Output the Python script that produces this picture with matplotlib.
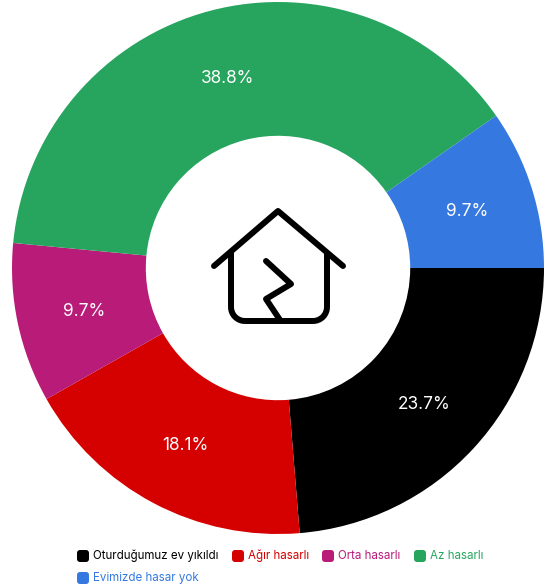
import matplotlib
matplotlib.use('Agg')
from matplotlib import pyplot as plt
from matplotlib.patches import FancyBboxPatch, Arc

labels = ['Oturduğumuz ev yıkıldı', 'Ağır hasarlı', 'Orta hasarlı', 'Az hasarlı', 'Evimizde hasar yok']
values = [23.7, 18.1, 9.7, 38.8, 9.7]
colors = ['#000000', '#d50000', '#b81c78', '#27a55f', '#3478e0']

W, H = 546, 588
plt.rcParams['font.family'] = ['Inter', 'DejaVu Sans']

fig = plt.figure(figsize=(W/100, H/100), dpi=100)

# donut
cx, cy, r = 278, 268, 266
ax = fig.add_axes([(cx-r)/W, 1-(cy+r)/H, 2*r/W, 2*r/H])
wedges, texts, pcts = ax.pie(values, colors=colors, startangle=0, counterclock=False,
                             radius=1, wedgeprops={'width': 0.503},
                             autopct='%.1f%%', pctdistance=0.745,
                             textprops={'color': 'white', 'fontsize': 12.4})
ax.set_xlim(-1, 1)
ax.set_ylim(-1, 1)
for t in pcts:
    t.set_y(t.get_position()[1] - 2.5/r)

# overlay in pixel coords for icon and legend
ov = fig.add_axes([0, 0, 1, 1])
ov.set_xlim(0, W)
ov.set_ylim(H, 0)
ov.axis('off')
ov.patch.set_alpha(0)

lw = 4.3
ov.plot([214, 278, 343], [266, 211, 266], color='black', lw=lw, solid_capstyle='round', solid_joinstyle='round')
ov.plot([231, 231], [253, 307], color='black', lw=lw, solid_capstyle='butt')
ov.plot([327, 327], [253, 307], color='black', lw=lw, solid_capstyle='butt')
ov.plot([245, 313], [321, 321], color='black', lw=lw, solid_capstyle='butt')
for c_x, c_y, a, b in [(245, 307, 90, 180), (313, 307, 0, 90)]:
    ov.add_patch(Arc((c_x, c_y), 28, 28, theta1=a, theta2=b, color='black', lw=lw))
ov.plot([266, 291, 266, 280], [261, 284, 299, 320], color='black', lw=lw,
        solid_capstyle='round', solid_joinstyle='round')

# legend
positions = [(77, 556), (232, 556), (322, 556), (414, 556), (77, 578)]
for lab, col, (x, y) in zip(labels, colors, positions):
    ov.add_patch(FancyBboxPatch((x, y-6), 12, 12, boxstyle='round,pad=0,rounding_size=3',
                                fc=col, ec='none'))
    ov.text(x+16, y, lab, color=col, fontsize=8.3, va='center', ha='left')

fig.savefig('out.png', dpi=100)
